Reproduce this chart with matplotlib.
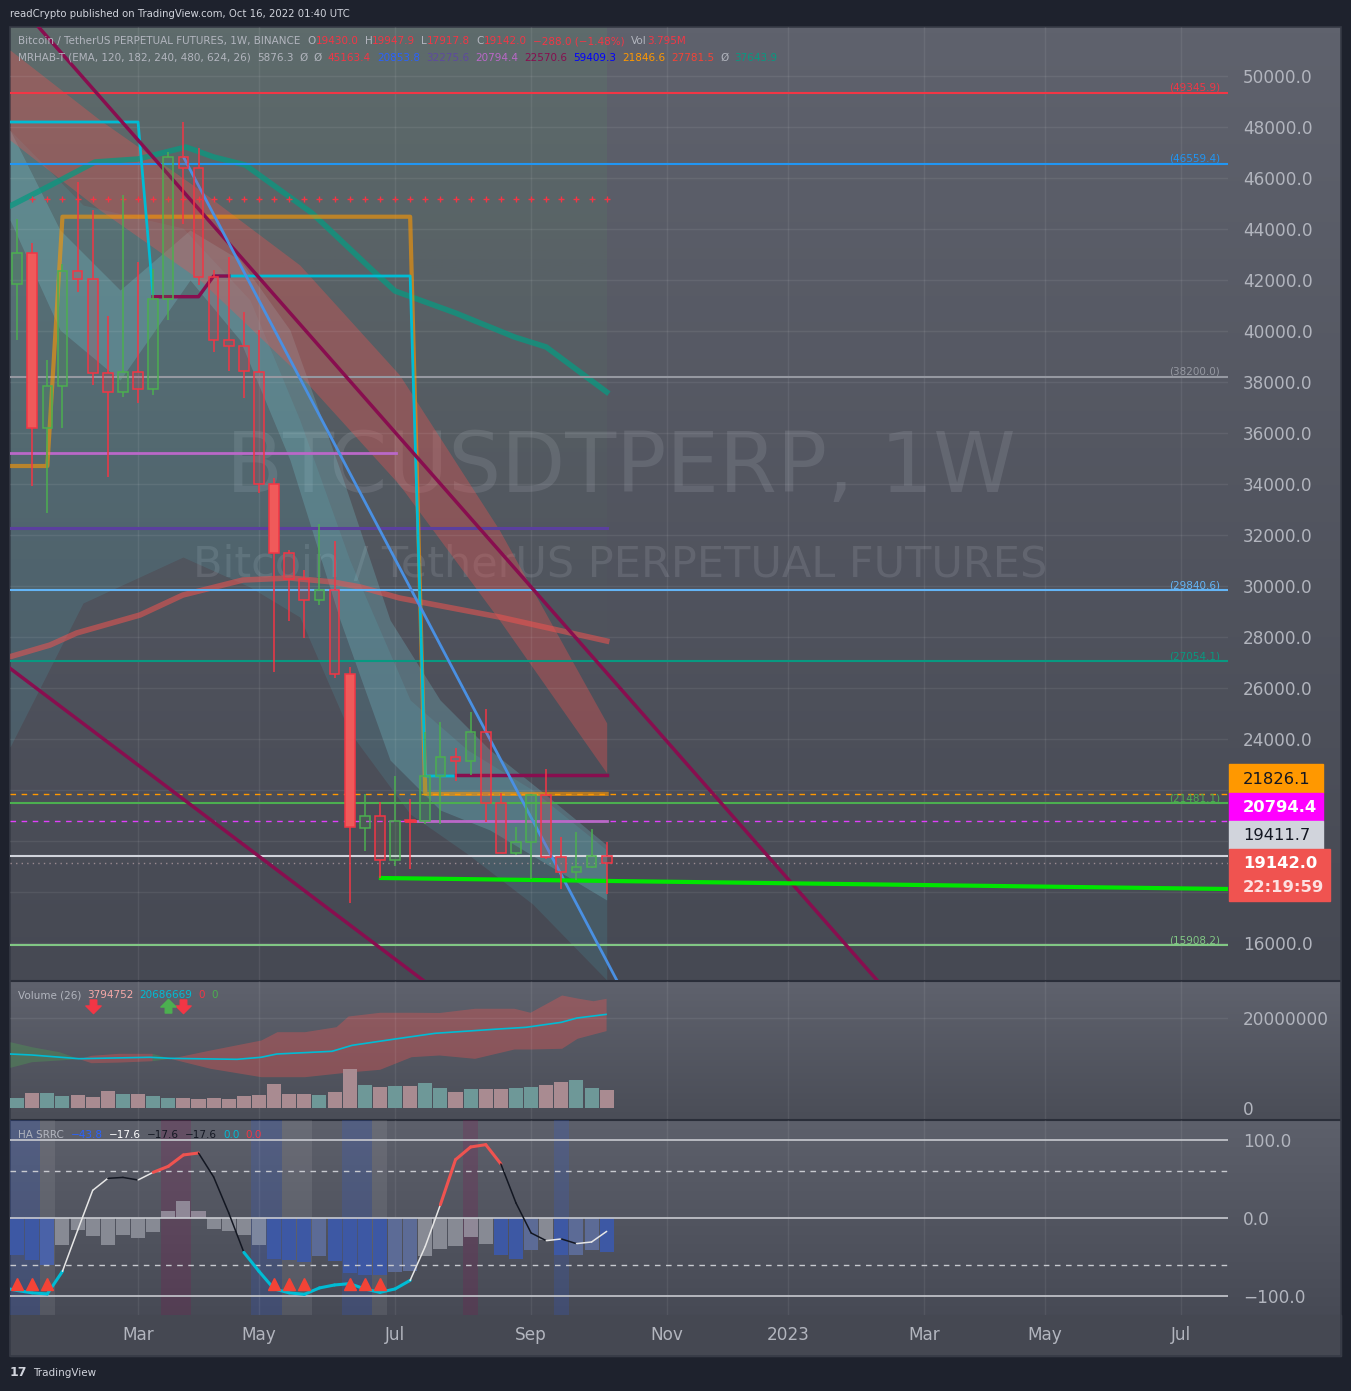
import numpy as np
import matplotlib
matplotlib.use('Agg')
import matplotlib.pyplot as plt
from matplotlib.colors import LinearSegmentedColormap
from matplotlib.patches import Rectangle
from matplotlib.path import Path

W, H = 1351, 1391

# ---------------- data (weekly candles, week 0 = 2022-01-03) ----------------
weeks = list(range(1, 41))
opens = [41831, 43047, 36184, 37843, 42340, 42027, 38341, 37621, 38380, 37712,
         41240, 46812, 46381, 42106, 39647, 39412, 38404, 33988, 31282, 30262,
         29451, 29843, 26549, 20522, 20992, 19267, 20820, 20770, 22549, 23283,
         23126, 24262, 21477, 19517, 19948, 21790, 19360, 18772, 18993, 19430]
highs = [44392, 43463, 38863, 42627, 45855, 44745, 40588, 45333, 42693, 42419,
         47033, 48184, 47165, 42392, 42915, 40757, 40039, 34248, 31400, 30627,
         32431, 31765, 26836, 21855, 21514, 22533, 21633, 24290, 24674, 23634,
         25066, 25170, 21895, 20548, 21850, 22810, 20144, 20366, 20457, 19948]
lows = [39647, 33934, 32851, 36210, 41543, 37882, 34287, 37425, 37163, 37490,
        40431, 44196, 41804, 39165, 38443, 37360, 33659, 26639, 28640, 27949,
        29242, 26400, 17580, 19606, 18547, 19019, 18888, 20680, 20680, 22366,
        22588, 20764, 19517, 19450, 18510, 19307, 18105, 18471, 18954, 17918]
closes = [43047, 36184, 37843, 42340, 42027, 38341, 37621, 38380, 37712, 41240,
          46812, 46381, 42106, 39647, 39412, 38443, 34000, 31282, 30262, 29451,
          29843, 26549, 20560, 20992, 19267, 20796, 20770, 22549, 23283, 23126,
          24262, 21477, 19517, 19948, 21790, 19360, 18772, 18993, 19412, 19142]
filled_weeks = [2, 18, 23]

volumes_m = [2.16, 3.27, 3.27, 2.60, 2.82, 2.38, 3.71, 3.04, 3.04, 2.60,
             2.16, 2.16, 1.93, 2.16, 1.93, 2.60, 2.82, 5.27, 3.04, 3.04,
             2.82, 3.49, 8.60, 5.04, 4.60, 4.82, 4.82, 5.49, 4.38, 3.49,
             4.16, 4.16, 4.16, 4.38, 4.60, 5.04, 5.71, 6.16, 4.38, 3.93]

# indicator lines (week, value)
ema_teal_w = [0.53, 3.0, 6.15, 9.0, 12.17, 14.0, 16.1, 20.5, 24.7, 26.0, 30.0, 33.9, 36.0, 40.0]
ema_teal_v = [44902, 45647, 46627, 46745, 47216, 46824, 46510, 44627, 42275, 41569, 40706, 39765, 39373, 37608]
ema_red_w = [0.53, 3.18, 4.94, 9.13, 11.97, 15.94, 19.05, 21.9, 23.7, 26.3, 32.9, 40.0]
ema_red_v = [27227, 27686, 28157, 28863, 29647, 30235, 30314, 30157, 29961, 29529, 28784, 27843]

ribbon_w = [0.53, 6.48, 13.1, 19.7, 26.3, 32.9, 40.0]
ribbon_up = [51020, 48275, 45529, 42588, 38275, 32196, 24627]
ribbon_lo = [47490, 44745, 42000, 38275, 33961, 28667, 22667]

cloud_w = [0.53, 5.36, 11.97, 16.4, 19.7, 23.0, 27.0, 30.8, 35.1, 40.0]
cloud_up = [47882, 44941, 44039, 41216, 36510, 31020, 25529, 23569, 22000, 19647]
cloud_lo = [23686, 29333, 31137, 29961, 28784, 24275, 21059, 19490, 17529, 14549]

band_w = [0.53, 3.84, 7.81, 12.44, 15.74, 19.05, 22.36, 25.67, 28.98, 32.28, 35.59, 40.0]
band_up = [47882, 43961, 41608, 43961, 42784, 40039, 34549, 28667, 25529, 23569, 22000, 19843]
band_lo = [44353, 40039, 38078, 42000, 39647, 34941, 28667, 23176, 21216, 20431, 19255, 17686]

orange_w = [0.53, 3, 4, 27, 28, 40]
orange_v = [34706, 34706, 44482, 44482, 21846.6, 21846.6]
cyan_w = [0.53, 9, 10, 13, 14, 27, 28, 30]
cyan_v = [48196, 48196, 41345, 41345, 42157, 42157, 22549, 22549]
maroon_w = [10, 13, 14, 15]
maroon_v = [41345, 41345, 42157, 42157]

# horizontal levels: (price, colour, label)
levels = [(49345.9, '#f23645', '(49345.9)'),
          (46559.4, '#2196f3', '(46559.4)'),
          (38200.0, '#9598a1', '(38200.0)'),
          (29840.6, '#64b5f6', '(29840.6)'),
          (27054.1, '#089981', '(27054.1)'),
          (21481.1, '#4caf50', '(21481.1)'),
          (19411.7, '#d1d4dc', None),
          (15908.2, '#81c784', '(15908.2)')]

vol_ma_w = [0.53, 1.96, 5.09, 9.79, 11.11, 15.55, 17.13, 18.18, 21.83, 23.16, 26.0, 28.65, 32.55, 34.66, 37.0, 38.04, 39.96]
vol_ma_v = [12.0, 11.78, 10.96, 11.27, 11.04, 10.82, 11.27, 12.0, 12.6, 13.93, 15.33, 16.6, 17.49, 17.93, 19.04, 20.0, 20.8]
vb_red_w = [11.11, 13.77, 17.13, 18.19, 20.01, 22.1, 22.89, 24.98, 27.06, 28.91, 31.26, 33.87, 34.93, 37.02, 38.04, 39.1, 39.96]
vb_red_up = [11.04, 12.89, 15.11, 16.96, 16.96, 18.07, 20.44, 21.27, 21.27, 21.22, 22.16, 22.16, 21.27, 25.11, 24.44, 23.84, 24.38]
vb_red_lo = [11.04, 8.82, 6.96, 6.96, 6.96, 7.71, 8.0, 8.6, 11.4, 11.78, 11.04, 13.11, 13.11, 13.27, 15.49, 16.44, 17.2]
vb_red1_w = [5.09, 5.89, 7.71, 9.93]
vb_red1_up = [10.96, 11.71, 12.16, 12.16]
vb_red1_lo = [10.96, 10.07, 10.2, 10.51]
vb_grn_w = [0.53, 1.96, 3.77, 5.09]
vb_grn_up = [14.73, 13.62, 12.51, 10.96]
vb_grn_lo = [9.04, 10.29, 10.67, 10.96]
vb_grn2_w = [9.93, 11.11]
vb_grn2_up = [12.16, 11.04]
vb_grn2_lo = [10.51, 11.04]

osc_hist = [-47.1, -54.3, -60.7, -35.1, -15.0, -23.5, -35.1, -21.4, -25.3, -18.5,
            8.5, 21.3, 8.5, -13.7, -17.1, -22.2, -34.2, -52.2, -54.3, -56.9,
            -49.2, -55.6, -70.6, -73.6, -73.6, -69.7, -68.4, -48.4, -39.4, -35.5,
            -24.8, -33.0, -47.9, -52.2, -40.6, -28.6, -47.9, -47.1, -40.6, -44.0]
osc_hist_kind = ['b', 'b', 'b2', 'g', 'g', 'g', 'g', 'g', 'g', 'g',
                 'p', 'p', 'p', 'g', 'g', 'g', 'lg', 'b', 'b', 'b',
                 'sb', 'b', 'b', 'b', 'b', 'sb', 'sb', 'g', 'g', 'g',
                 'p', 'g', 'b', 'b', 'sb', 'g', 'b', 'sb', 'sb', 'b']
osc_line = [-89, -93, -96, -97.4, -68.4, -16, 35.4, 50.8, 52, 48.7,
            58.5, 66.2, 80.8, 83.3, 52.6, 6.4, -44.1, -68.4, -91, -96,
            -97.9, -89.7, -85.9, -84.2, -91, -95.4, -91, -80, -36.4, 17,
            74.7, 91, 94, 69.2, 19.2, -19.2, -29.1, -26.9, -32.9, -30.8, -17.2]
osc_seg = ['c', 'c', 'c', 'c', 'w', 'w', 'w', 'k', 'k', 'w',
           'r', 'r', 'r', 'k', 'k', 'k', 'c', 'c', 'c', 'c',
           'c', 'c', 'c', 'c', 'c', 'c', 'c', 'w', 'w', 'r',
           'r', 'r', 'r', 'k', 'k', 'k', 'w', 'k', 'w', 'w']
osc_tri_weeks = [1, 2, 3, 18, 19, 20, 23, 24, 25]
osc_blue_weeks = [1, 2, 17, 18, 23, 24, 37]
osc_gray_weeks = [3, 19, 20, 25]
osc_maroon_weeks = [11, 12, 31]

month_weeks = [9, 17, 26, 35, 44, 52, 61, 69, 78]
month_labels = ['Mar', 'May', 'Jul', 'Sep', 'Nov', '2023', 'Mar', 'May', 'Jul']

price_ticks = list(range(16000, 50001, 2000))
hidden_ticks = [18000, 20000, 22000]  # covered by the price tags

XL = (0.53, 81.1)
AXC = '#b2b5be'


def rect(x0, y0, x1, y1):
    return [x0 / W, 1 - y1 / H, (x1 - x0) / W, (y1 - y0) / H]


def grad(ax, x0, x1, y0, y1, ctop, cbot):
    cm = LinearSegmentedColormap.from_list('g', [ctop, cbot])
    ax.imshow(np.linspace(0, 1, 256).reshape(-1, 1), cmap=cm, aspect='auto',
              extent=(x0, x1, y1, y0), zorder=0, interpolation='bilinear')


def style_pane(ax, ylim):
    ax.set_facecolor('none')
    ax.set_xlim(*XL)
    ax.set_ylim(*ylim)
    for s in ax.spines.values():
        s.set_visible(False)
    ax.yaxis.tick_right()
    ax.set_xticks(month_weeks)
    ax.tick_params(axis='x', length=0, labelbottom=False)
    ax.tick_params(axis='y', length=0, pad=10.8, labelsize=12.2, labelcolor=AXC)
    ax.grid(True, axis='x', color='white', alpha=0.07, lw=1)


fig = plt.figure(figsize=(W / 100, H / 100), dpi=100)
fig.patch.set_facecolor('#1e222d')

# background layer in pixel coords
bg = fig.add_axes([0, 0, 1, 1], zorder=0)
bg.set_xlim(0, W)
bg.set_ylim(H, 0)
bg.axis('off')
grad(bg, 10, 1341, 27, 980, '#5f626d', '#464953')
grad(bg, 10, 1341, 981, 1119, '#5f626d', '#4a4d57')
grad(bg, 10, 1341, 1120, 1315, '#5d606b', '#474a55')
bg.add_patch(Rectangle((10, 1315), 1331, 41, color='#454852', zorder=1))
# green tint over the history part
gcm = LinearSegmentedColormap.from_list('gt', [(0.35, 0.62, 0.4, 0.16), (0.35, 0.62, 0.4, 0.0)])
bg.imshow(np.linspace(0, 1, 256).reshape(-1, 1), cmap=gcm, aspect='auto',
          extent=(10, 607, 700, 27), zorder=1)
for y in (980.5, 1119.5):
    bg.plot([10, 1341], [y, y], color='#2a2e39', lw=1.5, zorder=2)
bg.add_patch(Rectangle((10, 27), 1331, 1329, fill=False, ec='#363a45', lw=1.2, zorder=2))
# watermark
bg.text(621, 492, 'BTCUSDTPERP, 1W', ha='center', va='baseline', fontsize=60,
        color='#a0a4ae', alpha=0.22, zorder=2)
bg.text(620, 577, 'Bitcoin / TetherUS PERPETUAL FUTURES', ha='center', va='baseline',
        fontsize=31, color='#a0a4ae', alpha=0.22, zorder=2)

# ---------------- main price pane ----------------
axm = fig.add_axes(rect(10, 27, 1228, 980), zorder=1)
style_pane(axm, (14549, 51922))
axm.set_yticks(price_ticks)
axm.set_yticklabels(['' if v in hidden_ticks else f'{v:.1f}' for v in price_ticks])
axm.grid(True, axis='y', color='white', alpha=0.07, lw=1)

axm.fill_between(cloud_w, cloud_lo, cloud_up, color='#4dd0e1', alpha=0.12, lw=0, zorder=1)
axm.fill_between(band_w, band_lo, band_up, color='#80deea', alpha=0.22, lw=0, zorder=1)
axm.fill_between(ribbon_w, ribbon_lo, ribbon_up, color='#ef5350', alpha=0.35, lw=0, zorder=1)
axm.plot(ema_teal_w, ema_teal_v, color='#089981', lw=4, alpha=0.75, zorder=2)
axm.plot(ema_red_w, ema_red_v, color='#ef5350', lw=4, alpha=0.55, zorder=2)

for p, c, lab in levels:
    axm.axhline(p, color=c, lw=1.5, zorder=2)
    if lab:
        axm.text(1210 / 1218, p, lab, transform=axm.get_yaxis_transform(),
                 ha='right', va='bottom', fontsize=7.5, color=c, zorder=6)
axm.axhline(21826.1, color='#ff9800', lw=1, ls=(0, (4, 4)), zorder=2)
axm.axhline(20794.4, color='#e040fb', lw=1, ls=(0, (4, 4)), zorder=2)
axm.axhline(19142.0, color='#9a8a90', lw=1, ls=(0, (1, 3)), zorder=2)

# segment levels
axm.plot([0.53, 26.07], [35216, 35216], color='#ba68c8', lw=2, zorder=2)
axm.plot([0.53, 40], [32275.6, 32275.6], color='#5b3f9e', lw=2.2, zorder=2)
axm.plot([27.3, 40], [20794.4, 20794.4], color='#ba68c8', lw=2, zorder=2)
axm.plot([26.7, 27.3], [20800, 20800], color='#f23645', lw=2, zorder=2)
axm.plot(orange_w, orange_v, color='#ff9800', lw=3, alpha=0.6, zorder=2)
axm.plot(cyan_w, cyan_v, color='#00bcd4', lw=2, zorder=2)
axm.plot(maroon_w, maroon_v, color='#880e4f', lw=2.5, zorder=2)
axm.plot([30, 40], [22570.6, 22570.6], color='#880e4f', lw=2.5, zorder=2)
axm.plot(weeks[1:], [45163.4] * 39, ls='none', marker='+', ms=4, mew=1,
         color='#f23645', zorder=2)

# trend lines
axm.plot([2.42, 57.87], [51922, 14549], color='#880e4f', lw=2.5, zorder=3)
axm.plot([0.53, 27.83], [26773, 14549], color='#880e4f', lw=2.5, zorder=3)
axm.plot([12.04, 40.66], [46784, 14549], color='#4a90e2', lw=2, zorder=3)
axm.plot([25.07, 81.1], [18549, 18118], color='#00e600', lw=3, zorder=4)

# candles
for w, o, h, l, c in zip(weeks, opens, highs, lows, closes):
    col = '#4caf50' if c >= o else '#f23645'
    lo_b, hi_b = min(o, c), max(o, c)
    axm.vlines(w, hi_b, h, color=col, lw=1.1, zorder=5)
    axm.vlines(w, l, lo_b, color=col, lw=1.1, zorder=5)
    if w in filled_weeks:
        axm.bar(w, hi_b - lo_b, bottom=lo_b, width=0.64, color='#f05a5a',
                edgecolor=col, lw=1.1, zorder=5)
    else:
        axm.bar(w, max(hi_b - lo_b, 40), bottom=lo_b, width=0.64, color=col,
                alpha=0.15, lw=0, zorder=5)
        axm.bar(w, max(hi_b - lo_b, 40), bottom=lo_b, width=0.64, fill=False,
                edgecolor=col, lw=1.1, zorder=5)

# ---------------- volume pane ----------------
axv = fig.add_axes(rect(10, 981, 1228, 1119), zorder=1)
style_pane(axv, (-2.44, 28.22))
axv.set_yticks([0, 20])
axv.set_yticklabels(['0', '20000000'])
axv.axhline(20, color='white', alpha=0.07, lw=1)
vcols = ['#6e9898' if c >= o else '#a98b91' for o, c in zip(opens, closes)]
axv.bar(weeks, volumes_m, width=0.93, color=vcols, zorder=2)
axv.fill_between(vb_grn_w, vb_grn_lo, vb_grn_up, color='#4caf50', alpha=0.3, lw=0)
axv.fill_between(vb_grn2_w, vb_grn2_lo, vb_grn2_up, color='#4caf50', alpha=0.3, lw=0)
axv.fill_between(vb_red1_w, vb_red1_lo, vb_red1_up, color='#ef5350', alpha=0.35, lw=0)
axv.fill_between(vb_red_w, vb_red_lo, vb_red_up, color='#ef5350', alpha=0.35, lw=0)
axv.plot(vol_ma_w, vol_ma_v, color='#00bcd4', lw=1.2, zorder=3)
down = Path([(-0.3, 0.6), (0.3, 0.6), (0.3, 0.05), (0.7, 0.05), (0, -0.65),
             (-0.7, 0.05), (-0.3, 0.05), (-0.3, 0.6)], closed=True)
up = Path([(x, -y) for x, y in down.vertices], closed=True)
axv.plot([6, 12], [22.67, 22.67], ls='none', marker=down, ms=11, color='#f23645', zorder=4)
axv.plot([11], [22.67], ls='none', marker=up, ms=11, color='#4caf50', zorder=4)

# ---------------- oscillator pane ----------------
axo = fig.add_axes(rect(10, 1120, 1228, 1315), zorder=1)
style_pane(axo, (-124.4, 125.6))
axo.set_yticks([100, 0, -100])
axo.set_yticklabels(['100.0', '0.0', '\u2212100.0'])
axo.tick_params(axis='x', labelbottom=True, pad=8, labelsize=12.2, labelcolor=AXC)
axo.set_xticklabels(month_labels)
for wk in osc_blue_weeks:
    axo.axvspan(wk - 0.5, wk + 0.5, color='#2962ff', alpha=0.16, lw=0, zorder=0)
for wk in osc_gray_weeks:
    axo.axvspan(wk - 0.5, wk + 0.5, color='#ffffff', alpha=0.08, lw=0, zorder=0)
for wk in osc_maroon_weeks:
    axo.axvspan(wk - 0.5, wk + 0.5, color='#880e4f', alpha=0.2, lw=0, zorder=0)
kind_col = {'b': '#3d58a4', 'b2': '#4a62a8', 'sb': '#5c6b96', 'g': '#878a94',
            'p': '#8f8897', 'lg': '#7d879f'}
axo.bar(weeks, osc_hist, width=0.93, color=[kind_col[k] for k in osc_hist_kind], zorder=2)
for v in (100, 0, -100):
    axo.axhline(v, color='#c8cad0', lw=1.2, zorder=3)
for v in (60, -60):
    axo.axhline(v, color='#c8cad0', lw=1, ls=(0, (4, 4)), zorder=3)
seg_col = {'c': ('#00bcd4', 2.2), 'w': ('#e6e6e6', 1.1), 'k': ('#131722', 1.1), 'r': ('#ef5350', 2.2)}
for i, k in enumerate(osc_seg):
    col, lw = seg_col[k]
    axo.plot([i, i + 1], [osc_line[i], osc_line[i + 1]], color=col, lw=lw,
             solid_capstyle='round', zorder=4)
axo.plot(osc_tri_weeks, [-84.6] * len(osc_tri_weeks), ls='none', marker='^', ms=8,
         color='#f44336', zorder=5)

# ---------------- overlay: price tags and legends ----------------
ov = fig.add_axes([0, 0, 1, 1], zorder=10)
ov.set_xlim(0, W)
ov.set_ylim(H, 0)
ov.axis('off')
TAG = 11.8
ov.add_patch(Rectangle((1229, 764), 94, 29, color='#ff9800'))
ov.text(1243, 779, '21826.1', color='#131722', fontsize=TAG, va='center')
ov.add_patch(Rectangle((1229, 793), 94, 28, color='#ff00ff'))
ov.text(1243, 807, '20794.4', color='white', fontsize=TAG, va='center', weight='bold')
ov.add_patch(Rectangle((1229, 821), 94, 28, color='#d1d4dc'))
ov.text(1243, 835, '19411.7', color='#131722', fontsize=TAG, va='center')
ov.add_patch(Rectangle((1229, 849), 101, 52, color='#f05350'))
ov.text(1243, 863, '19142.0', color='white', fontsize=TAG, va='center', weight='bold')
ov.text(1243, 887, '22:19:59', color='#fde0e0', fontsize=TAG, va='center', weight='bold')

renderer = fig.canvas.get_renderer()


def chain(x, y, pieces, size):
    for s, c, gap in pieces:
        t = ov.text(x, y, s, color=c, fontsize=size, va='center', ha='left')
        bb = t.get_window_extent(renderer=renderer)
        x += bb.width + gap


G = '#b2b5be'
R = '#f23645'
ov.text(10, 14, 'readCrypto published on TradingView.com, Oct 16, 2022 01:40 UTC',
        color='#d1d4dc', fontsize=7.3, va='center')
chain(18, 41, [('Bitcoin / TetherUS PERPETUAL FUTURES, 1W, BINANCE', G, 7),
               ('O', G, 0), ('19430.0', R, 6), ('H', G, 0), ('19947.9', R, 6),
               ('L', G, 0), ('17917.8', R, 6), ('C', G, 0), ('19142.0', R, 6),
               ('\u2212288.0 (\u22121.48%)', R, 7), ('Vol', G, 0), ('3.795M', R, 0)], 7.5)
chain(18, 58, [('MRHAB-T (EMA, 120, 182, 240, 480, 624, 26)', G, 6), ('5876.3', G, 6),
               ('\u00d8', G, 6), ('\u00d8', G, 6), ('45163.4', '#f23645', 6),
               ('20853.8', '#2962ff', 6), ('32275.6', '#5e4a9e', 6),
               ('20794.4', '#ba68c8', 6), ('22570.6', '#880e4f', 6),
               ('59409.3', '#0000ff', 6), ('21846.6', '#ff9800', 6),
               ('27781.5', '#f44336', 6), ('\u00d8', G, 6), ('37643.9', '#089981', 0)], 7.5)
chain(18, 995, [('Volume (26)', G, 6), ('3794752', '#f7a9a8', 6),
                ('20686669', '#00bcd4', 6), ('0', '#f23645', 6), ('0', '#4caf50', 0)], 7.5)
chain(18, 1135, [('HA SRRC', G, 7), ('\u221243.8', '#2962ff', 6), ('\u221217.6', '#ffffff', 6),
                 ('\u221217.6', '#131722', 6), ('\u221217.6', '#131722', 6),
                 ('0.0', '#00bcd4', 6), ('0.0', '#f23645', 0)], 7.5)
ov.text(10, 1373, '17', color='#d1d4dc', fontsize=9, weight='bold', va='center')
ov.text(33, 1373, 'TradingView', color='#d1d4dc', fontsize=7.5, va='center')

fig.savefig('out.png', dpi=100, facecolor=fig.get_facecolor())
